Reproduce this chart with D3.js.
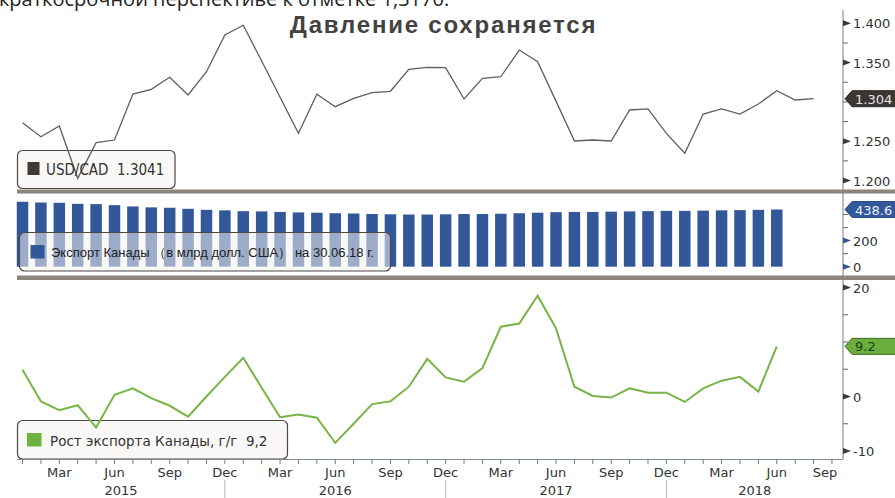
<!DOCTYPE html>
<html><head><meta charset="utf-8">
<script src="https://cdn.jsdelivr.net/npm/d3@7"></script>
<style>body{margin:0;background:#fff;overflow:hidden}svg{display:block}</style>
</head><body><svg id="c" width="895" height="498"></svg>
<script>
// ---------- data ----------
const monthNames = ["Jan","Feb","Mar","Apr","May","Jun","Jul","Aug","Sep","Oct","Nov","Dec"];
const years = ["2015","2016","2017","2018"];
// USD/CAD month-end, Jan 2015 .. Aug 2018
const usdcad = [1.2735,1.2557,1.2693,1.2028,1.2481,1.2515,1.3100,1.3160,1.3313,1.3088,1.3384,1.3851,
                1.3975,1.3520,1.3060,1.2600,1.3097,1.2939,1.3046,1.3117,1.3135,1.3415,1.3440,1.3435,
                1.3037,1.3300,1.3320,1.3660,1.3512,1.3010,1.2503,1.2515,1.2503,1.2897,1.2910,1.2600,
                1.2346,1.2846,1.2910,1.2846,1.2973,1.3143,1.3024,1.3041];
// Canadian exports, USD bn, Jan 2015 .. Jun 2018
const exportsBn = [498,492,490,482,480,472,462,455,452,444,436,432,
                   426,424,420,416,414,410,408,404,402,400,400,402,
                   404,404,406,410,414,418,420,420,422,424,426,428,
                   428,430,432,434,436,438.6];
// Export growth y/y, %, Jan 2015 .. Jun 2018
const exportGrowth = [4.9,-0.9,-2.5,-1.6,-5.7,0.3,1.5,-0.3,-1.7,-3.7,0.0,3.6,
                      7.1,1.6,-3.8,-3.3,-3.9,-8.5,-5.0,-1.4,-0.9,1.8,6.9,3.5,
                      2.7,5.2,12.8,13.4,18.5,12.5,1.8,0.1,-0.2,1.5,0.7,0.7,
                      -1.0,1.5,2.9,3.6,0.9,9.2];
const usdTicks = [1.2,1.25,1.35,1.4];
const usdMinor = [1.225,1.275,1.325,1.375,1.3];
const barTicks = [0,200];
const barMinor = [100,300,400];
const grTicks = [-10,0,20];
const grMinor = [-5,5,15,10];
const quarterMonths = [2,5,8,11]; // Mar, Jun, Sep, Dec

// ---------- layout ----------
const svg = d3.select("#c");
const L = 17, R = 843;
const x = d3.scaleLinear().domain([-0.3, 44.6]).range([L, R]);
const yTop = d3.scaleLinear().domain([1.2, 1.4]).range([180.5, 23.3]);
const yBar = d3.scaleLinear().domain([0, 438.6]).range([266.7, 209.5]);
const yGr  = d3.scaleLinear().domain([-10, 20]).range([451, 287.5]);
const AX = "DejaVu Sans, Verdana, sans-serif";

// top cut-off text (continuation of the article text above the chart)
svg.append("text").attr("x", -1).attr("y", 6).attr("font-family","Open Sans, Noto Sans, sans-serif")
  .attr("font-size", 20).attr("fill","#222").text("краткосрочной перспективе к отметке 1,3170.");

// title
svg.append("text").attr("x", 443.5).attr("y", 33).attr("text-anchor","middle")
  .attr("font-family","Liberation Sans, Arial, sans-serif").attr("font-weight","bold")
  .attr("font-size", 24).attr("letter-spacing", 1.8).attr("fill","#424242").text("Давление сохраняется");

// ---------- legends (boxes behind marks) ----------
function legendBox(x0,y0,w,h){
  svg.append("rect").attr("x",x0).attr("y",y0).attr("width",w).attr("height",h).attr("rx",5)
    .attr("fill","#f4f2ef").attr("fill-opacity",0.55).attr("stroke","#4a4744").attr("stroke-width",1.2);
}

// ---------- bars ----------
const bw = 11.5;
svg.append("g").selectAll("rect").data(exportsBn).join("rect")
  .attr("x",(d,i)=>x(i)-bw/2).attr("width",bw)
  .attr("y",d=>yBar(d)).attr("height",d=>yBar(0)-yBar(d)).attr("fill","#33589a");
legendBox(19.5,232.5,371,38.5);
svg.append("rect").attr("x",30.5).attr("y",245).attr("width",14).attr("height",13.5).attr("fill","#33589a");
svg.append("text").attr("x",51).attr("y",256.5).attr("font-family","Liberation Sans, Arial, sans-serif")
  .attr("font-size",13).attr("fill","#222").attr("xml:space","preserve")
  .text("Экспорт Канады （в млрд долл. США） на 30.06.18 г.");

// ---------- top line ----------
legendBox(17.5,150.5,157.5,38);
svg.append("path").datum(usdcad).attr("fill","none").attr("stroke","#5e5e5e").attr("stroke-width",1.3)
  .attr("d", d3.line().x((d,i)=>x(i)).y(d=>yTop(d)));
svg.append("rect").attr("x",27.5).attr("y",162).attr("width",12).attr("height",13).attr("fill","#3d3935");
svg.append("text").attr("x",46).attr("y",175).attr("font-family","DejaVu Sans Condensed, DejaVu Sans, sans-serif")
  .attr("font-size",15).attr("fill","#333").attr("xml:space","preserve").text("USD/CAD  1.3041");

// ---------- growth line ----------
legendBox(17.5,420.5,270,38.5);
svg.append("path").datum(exportGrowth).attr("fill","none").attr("stroke","#78b446").attr("stroke-width",2)
  .attr("d", d3.line().x((d,i)=>x(i)).y(d=>yGr(d)));
svg.append("rect").attr("x",27).attr("y",433).attr("width",14.5).attr("height",13.5).attr("fill","#6db33f");
svg.append("text").attr("x",50).attr("y",445.5).attr("font-family",AX)
  .attr("font-size",13.5).attr("fill","#333").attr("xml:space","preserve").text("Рост экспорта Канады, г/г  9,2");

// ---------- separators ----------
svg.append("rect").attr("x",L).attr("y",189.5).attr("width",895-L).attr("height",4).attr("fill","#8c867f");
svg.append("rect").attr("x",L).attr("y",275.5).attr("width",895-L).attr("height",4.5).attr("fill","#8c867f");

// ---------- right axes ----------
svg.append("line").attr("x1",R).attr("x2",R).attr("y1",10).attr("y2",459).attr("stroke","#7d7d7d");
svg.append("line").attr("x1",L).attr("x2",R).attr("y1",459.5).attr("y2",459.5).attr("stroke","#7f8a9a");

function rightAxis(scale, ticks, minor, color, fmt){
  const g = svg.append("g");
  g.selectAll(".mn").data(minor).join("line").attr("x1",R).attr("x2",R+5)
    .attr("y1",d=>scale(d)).attr("y2",d=>scale(d)).attr("stroke","#666");
  g.selectAll(".tri").data(ticks).join("path")
    .attr("d",d=>`M${R},${scale(d)-3}L${R+8},${scale(d)}L${R},${scale(d)+3}Z`).attr("fill",color);
  g.selectAll(".lb").data(ticks).join("text").attr("x",R+10).attr("y",d=>scale(d)+5)
    .attr("font-family",AX).attr("font-size",13).attr("fill","#333").text(fmt);
}
rightAxis(yTop, usdTicks, usdMinor, "#3b3b3b", d=>d3.format(".3f")(d));
rightAxis(yBar, barTicks, barMinor, "#33589a", d=>d);
rightAxis(yGr, grTicks, grMinor, "#3b3b3b", d=>d);

function valueTag(yc, fill, stroke, textColor, label){
  const x0 = R+2, h = 16;
  svg.append("path").attr("d",`M${x0},${yc}L${x0+7},${yc-h/2}L900,${yc-h/2}L900,${yc+h/2}L${x0+7},${yc+h/2}Z`)
    .attr("fill",fill).attr("stroke",stroke);
  svg.append("text").attr("x",x0+10).attr("y",yc+5).attr("font-family",AX).attr("font-size",13)
    .attr("fill",textColor).text(label);
}
valueTag(yTop(1.3041), "#3b3733", "#2a2724", "#e6e6e6", "1.304");
valueTag(yBar(438.6), "#33589a", "#264a85", "#e8eef8", "438.6");
valueTag(yGr(9.2), "#6cae3e", "#3e6e22", "#1d3d10", "9.2");

// ---------- x axis ----------
const idx = d3.range(0, 45);
svg.append("g").selectAll("line").data(idx).join("line")
  .attr("x1",i=>x(i)).attr("x2",i=>x(i)).attr("y1",459.5).attr("y2",464).attr("stroke","#6d7a8c");
const qIdx = idx.filter(i=>quarterMonths.includes(i%12));
svg.append("g").selectAll("text").data(qIdx).join("text")
  .attr("x",i=>Math.min(x(i), R-18)).attr("y",477).attr("text-anchor","middle")
  .attr("font-family",AX).attr("font-size",13).attr("fill","#333").text(i=>monthNames[i%12]);
// year dividers
svg.append("g").selectAll("line").data([11,23,35]).join("line")
  .attr("x1",i=>x(i)).attr("x2",i=>x(i)).attr("y1",480).attr("y2",498).attr("stroke","#b5b5b5");
const yearCenters = [[L, x(11)],[x(11),x(23)],[x(23),x(35)],[x(35),R]];
svg.append("g").selectAll("text").data(years).join("text")
  .attr("x",(d,i)=>(yearCenters[i][0]+yearCenters[i][1])/2).attr("y",495).attr("text-anchor","middle")
  .attr("font-family",AX).attr("font-size",13).attr("fill","#333").text(d=>d);
</script></body></html>
